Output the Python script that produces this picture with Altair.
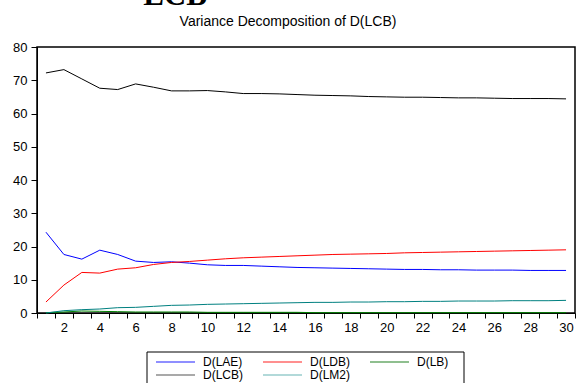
import altair as alt
import pandas as pd

periods = list(range(1, 31))
series_names = ["D(LAE)", "D(LDB)", "D(LB)", "D(LCB)", "D(LM2)"]
series_colors = ["#0000ff", "#ff0000", "#008000", "#000000", "#008080"]
legend_colors = ["#2020ff", "#ff2020", "#208020", "#555555", "#66b3b3"]

lae = [24.3, 17.6, 16.2, 18.9, 17.6, 15.6, 15.2, 15.4, 15.0, 14.5, 14.3, 14.3, 14.1, 13.9, 13.7,
       13.6, 13.5, 13.4, 13.3, 13.2, 13.1, 13.1, 13.0, 13.0, 12.9, 12.9, 12.9, 12.8, 12.8, 12.8]
ldb = [3.3, 8.4, 12.2, 12.0, 13.2, 13.6, 14.6, 15.2, 15.5, 15.9, 16.3, 16.6, 16.8, 17.0, 17.2,
       17.4, 17.6, 17.7, 17.8, 17.9, 18.1, 18.2, 18.3, 18.4, 18.5, 18.6, 18.7, 18.8, 18.9, 19.0]
lb = [0.1, 0.3, 0.6, 0.5, 0.4, 0.3, 0.3, 0.3, 0.3, 0.2, 0.2, 0.2, 0.2, 0.2, 0.2,
      0.1, 0.1, 0.1, 0.1, 0.1, 0.1, 0.1, 0.1, 0.1, 0.1, 0.1, 0.1, 0.1, 0.1, 0.1]
lcb = [72.2, 73.2, 70.4, 67.6, 67.2, 68.9, 67.9, 66.8, 66.8, 66.9, 66.5, 66.0, 66.0, 65.9, 65.7,
       65.5, 65.4, 65.3, 65.1, 65.0, 64.9, 64.9, 64.8, 64.7, 64.7, 64.6, 64.5, 64.5, 64.5, 64.4]
lm2 = [0.0, 0.7, 1.0, 1.2, 1.6, 1.7, 2.0, 2.3, 2.4, 2.6, 2.7, 2.8, 2.9, 3.0, 3.1,
       3.2, 3.2, 3.3, 3.3, 3.4, 3.4, 3.5, 3.5, 3.6, 3.6, 3.6, 3.7, 3.7, 3.7, 3.8]

x_tick_values = [i + 0.5 for i in range(0, 31)]
y_tick_values = list(range(0, 81, 10))
title_text = "Variance Decomposition of D(LCB)"
top_text = "LCB"

rows = []
for name, vals in zip(series_names, [lae, ldb, lb, lcb, lm2]):
    for p, v in zip(periods, vals):
        rows.append({"period": p, "value": v, "series": name})
df = pd.DataFrame(rows)

FONT = "Liberation Sans"
color_scale = alt.Scale(domain=series_names, range=series_colors)

lines = alt.Chart(df).mark_line(strokeWidth=1).encode(
    x=alt.X("period:Q",
            scale=alt.Scale(domain=[0.5, 30.5], nice=False, zero=False),
            axis=alt.Axis(values=x_tick_values, title=None, grid=False,
                          labelExpr="(datum.value + 0.5) % 2 == 0 ? format(datum.value + 0.5, 'd') : ''",
                          labelOffset=9, labelOverlap=False, labelFlush=False,
                          tickSize=5, labelPadding=3, domainColor="black", tickColor="black",
                          labelFont=FONT, labelFontSize=13, labelColor="black")),
    y=alt.Y("value:Q",
            scale=alt.Scale(domain=[0, 80], nice=False),
            axis=alt.Axis(values=y_tick_values, title=None, grid=False,
                          tickSize=6, labelPadding=4, domainColor="black", tickColor="black",
                          labelFont=FONT, labelFontSize=13, labelColor="black")),
    color=alt.Color("series:N", scale=color_scale, legend=None),
    detail="series:N",
)

# Manual legend (3 columns, 2 rows) in a boxed frame below the plot
leg_rows = []
for i, (name, col) in enumerate(zip(series_names, legend_colors)):
    c, r = i % 3, i // 3
    x1 = 119 + c * 107
    leg_rows.append({"series": name, "col": col, "x1": x1, "x2": x1 + 39,
                     "lx": x1 + 47, "ly": 315 + r * 13})
leg_df = pd.DataFrame(leg_rows)

box = alt.Chart(pd.DataFrame({"k": [0]})).mark_rect(
    fill="white", stroke="black", strokeWidth=1
).encode(x=alt.value(110), x2=alt.value(427), y=alt.value(305), y2=alt.value(345))

leg_lines = alt.Chart(leg_df).mark_rule(strokeWidth=1.2).encode(
    x=alt.X("x1:Q", scale=None), x2="x2:Q", y=alt.Y("ly:Q", scale=None),
    color=alt.Color("col:N", scale=None),
)
leg_text = alt.Chart(leg_df).mark_text(
    font=FONT, fontSize=12, color="black", align="left", baseline="middle"
).encode(x=alt.X("lx:Q", scale=None), y=alt.Y("ly:Q", scale=None), text="series:N")

title_mark = alt.Chart(pd.DataFrame({"t": [title_text]})).mark_text(
    font=FONT, fontSize=14, color="black", align="center", baseline="alphabetic"
).encode(text="t:N", x=alt.value(251), y=alt.value(-21))

top_mark = alt.Chart(pd.DataFrame({"t": [top_text]})).mark_text(
    font="Liberation Serif", fontSize=31, fontWeight="bold", color="black",
    align="center", baseline="alphabetic"
).encode(text="t:N", x=alt.value(138), y=alt.value(-42))

chart = alt.layer(lines, title_mark, top_mark, box, leg_lines, leg_text).resolve_scale(
    x="shared", y="shared"
).properties(
    width=538, height=266,
    autosize=alt.AutoSizeParams(type="none"),
    padding={"left": 37, "top": 47, "right": 1, "bottom": 70},
).configure_view(stroke="black", strokeWidth=1.5)

chart.save("out.html", embed_options={"renderer": "svg", "actions": False})
